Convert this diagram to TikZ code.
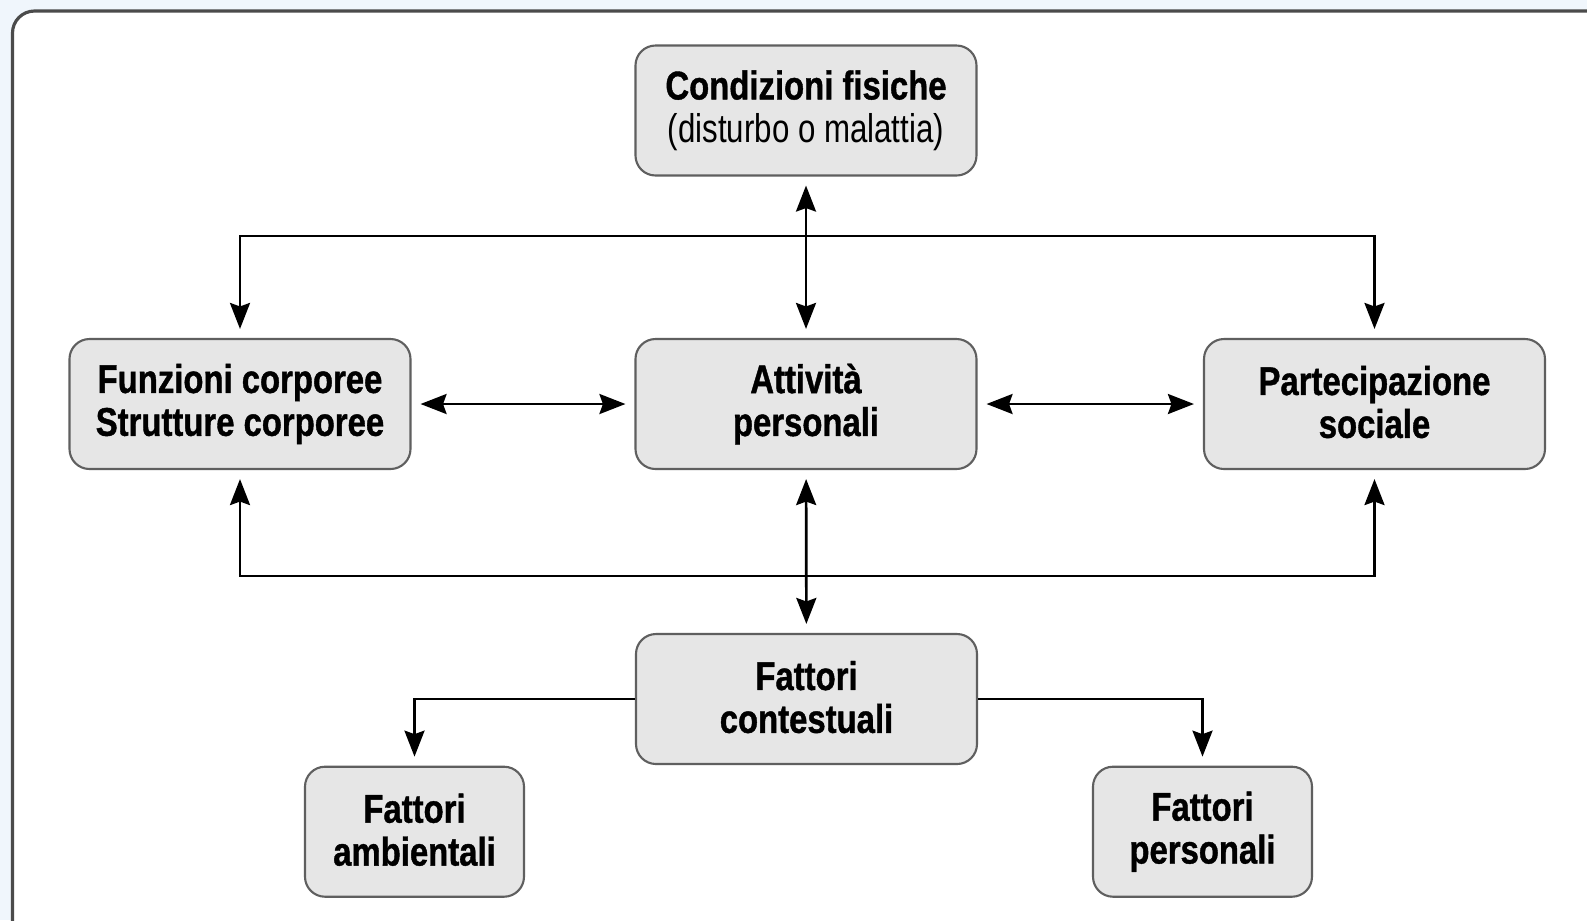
\documentclass[tikz,border=0pt]{standalone}
\usepackage{fontspec}
\setmainfont{Liberation Sans}[UprightFeatures={FakeStretch=0.78}, BoldFeatures={FakeStretch=0.82, FakeBold=1}]
\usetikzlibrary{arrows.meta, positioning, calc}
\definecolor{boxgray}{RGB}{230, 230, 230}
\definecolor{edgegray}{RGB}{95, 95, 95}
\definecolor{framegray}{RGB}{75, 75, 75}
\definecolor{pageblue}{RGB}{240, 246, 252}
\newcommand{\boxstrut}{\rule[-1.2pt]{0pt}{9.6pt}}

\begin{document}
\begin{tikzpicture}[
  cbox/.style={draw=edgegray, line width=0.6pt, fill=boxgray, rounded corners=0.2cm, minimum width=3.41cm, minimum height=1.30cm, align=center, inner sep=2pt, font=\fontsize{11.4}{12.2}\selectfont\bfseries, execute at begin node=\boxstrut, execute at end node=\boxstrut},
  sbox/.style={cbox, minimum width=2.19cm},
  link/.style={line width=0.75pt, -{Stealth[length=0.26cm, width=0.2cm, inset=0.035cm]}, shorten >=0.09cm},
  dlink/.style={line width=0.75pt, {Stealth[length=0.26cm, width=0.2cm, inset=0.035cm]}-{Stealth[length=0.26cm, width=0.2cm, inset=0.035cm]}, shorten >=0.09cm, shorten <=0.09cm}
]
  % page and frame
  \useasboundingbox (0,0) rectangle (15.87,-9.20);
  \clip (0,0) rectangle (15.87,-9.20);
  \fill[pageblue] (0,0) rectangle (15.87,-9.20);
  \draw[framegray, line width=0.9pt, fill=white, rounded corners=0.22cm] (0.125,-0.11) rectangle (16.30,-9.60);

  % boxes
  \node[cbox] (cond) at (8.06, -1.105) {Condizioni fisiche\\{\mdseries (disturbo o malattia)}};
  \node[cbox] (funz) at (2.40, -4.04) {Funzioni corporee\\Strutture corporee};
  \node[cbox] (att)  at (8.06, -4.04) {Attività\\personali};
  \node[cbox] (part) at (13.745, -4.04) {Partecipazione\\sociale};
  \node[cbox] (cont) at (8.065, -6.99) {Fattori\\contestuali};
  \node[sbox] (amb)  at (4.145, -8.317) {Fattori\\ambientali};
  \node[sbox] (pers) at (12.025, -8.317) {Fattori\\personali};

  % bus lines
  \coordinate (topbus) at (8.06, -2.36);
  \coordinate (botbus) at (8.06, -5.76);

  \draw[dlink] (cond) -- (att);
  \draw[dlink] (att) -- (cont);
  \draw[dlink] (funz) -- (att);
  \draw[dlink] (att) -- (part);

  \draw[link] (topbus) -| (funz.north);
  \draw[link] (topbus) -| (part.north);
  \draw[link] (botbus) -| (funz.south);
  \draw[link] (botbus) -| (part.south);

  \draw[link] (cont.west) -| (amb.north);
  \draw[link] (cont.east) -| (pers.north);
\end{tikzpicture}
\end{document}
